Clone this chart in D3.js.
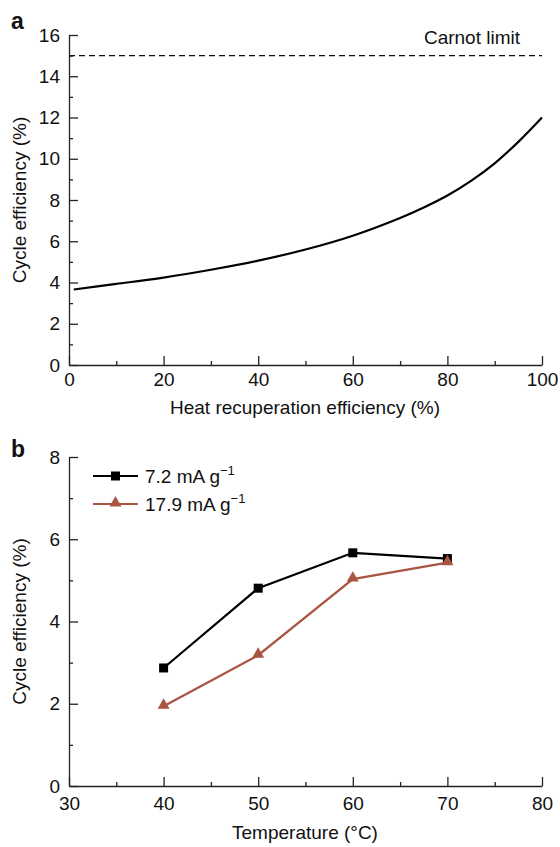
<!DOCTYPE html>
<html><head><meta charset="utf-8">
<script src="https://cdn.jsdelivr.net/npm/d3@7"></script>
<style>
body{margin:0;background:#fff;}
svg text{font-family:"Liberation Sans",Arial,Helvetica,sans-serif;fill:#111;}
</style></head>
<body><svg id="c" width="560" height="847"></svg>
<script>
// Panel a data
const recupX = [1, 10, 20, 30, 40, 50, 60, 70, 75, 80, 85, 90, 95, 100];
const cycleEffA = [3.66, 3.93, 4.24, 4.62, 5.06, 5.60, 6.27, 7.13, 7.64, 8.22, 8.93, 9.78, 10.82, 12.0];
const carnotLimit = 15;
const aXTicks = [0, 20, 40, 60, 80, 100];
const aYTicks = [0, 2, 4, 6, 8, 10, 12, 14, 16];
// Panel b data
const temps = [40, 50, 60, 70];
const eff72 = [2.87, 4.81, 5.67, 5.53];
const eff179 = [1.94, 3.18, 5.03, 5.43];
const seriesNames = ["7.2 mA g", "17.9 mA g"];
const bXTicks = [30, 40, 50, 60, 70, 80];
const bYTicks = [0, 2, 4, 6, 8];

const svg = d3.select("#c");
const FS = 19;
const red = "#AA5542";

function axes(g, x, y, xt, yt, xMinor, yMinor, xPad) {
  const h = y.range()[0];
  const x0 = x.range()[0];
  g.append("g").attr("transform", `translate(0,${h})`)
    .call(d3.axisBottom(x).tickValues(xMinor).tickSize(-4).tickFormat(""))
    .call(s => s.select(".domain").remove());
  g.append("g").attr("transform", `translate(${x0},0)`)
    .call(d3.axisLeft(y).tickValues(yMinor).tickSize(-4).tickFormat(""))
    .call(s => s.select(".domain").remove());
  const xa = g.append("g").attr("transform", `translate(0,${h})`)
    .call(d3.axisBottom(x).tickValues(xt).tickSizeInner(-9).tickSizeOuter(0).tickPadding(xPad));
  const ya = g.append("g").attr("transform", `translate(${x0},0)`)
    .call(d3.axisLeft(y).tickValues(yt).tickSizeInner(-9).tickSizeOuter(0).tickPadding(9));
  [xa, ya].forEach(a => {
    a.selectAll("text").attr("font-size", FS).attr("font-family", null);
  });
  g.selectAll("line,path.domain").attr("stroke", "#222").attr("stroke-width", 1.3);
}

// ---------- Panel a ----------
const xA = d3.scaleLinear().domain([0, 100]).range([69, 542]);
const yA = d3.scaleLinear().domain([0, 16]).range([365, 35]);
const ga = svg.append("g");
axes(ga, xA, yA, aXTicks, aYTicks, d3.range(10, 100, 20), d3.range(1, 16, 2), 8);

ga.append("line").attr("x1", xA(0)).attr("x2", xA(100))
  .attr("y1", yA(carnotLimit)).attr("y2", yA(carnotLimit))
  .attr("stroke", "#111").attr("stroke-width", 1.4).attr("stroke-dasharray", "6,4");
ga.append("text").attr("x", 520).attr("y", 44).attr("text-anchor", "end")
  .attr("font-size", FS).text("Carnot limit");

const lineA = d3.line().x((d, i) => xA(recupX[i])).y(d => yA(d)).curve(d3.curveCatmullRom.alpha(0.5));
ga.append("path").attr("d", lineA(cycleEffA)).attr("fill", "none")
  .attr("stroke", "#000").attr("stroke-width", 2.2);

ga.append("text").attr("x", 305).attr("y", 414).attr("text-anchor", "middle")
  .attr("font-size", FS).text("Heat recuperation efficiency (%)");
ga.append("text").attr("transform", `translate(26,${(35 + 365) / 2}) rotate(-90)`)
  .attr("text-anchor", "middle").attr("font-size", FS).text("Cycle efficiency (%)");
ga.append("text").attr("x", 11).attr("y", 29).attr("font-size", 23)
  .attr("font-weight", "bold").text("a");

// ---------- Panel b ----------
const xB = d3.scaleLinear().domain([30, 80]).range([69, 542]);
const yB = d3.scaleLinear().domain([0, 8]).range([786, 457]);
const gb = svg.append("g");
axes(gb, xB, yB, bXTicks, bYTicks, d3.range(35, 80, 10), d3.range(1, 8, 2), 11);

const lineB = d3.line().x((d, i) => xB(temps[i])).y(d => yB(d));
gb.append("path").attr("d", lineB(eff179)).attr("fill", "none")
  .attr("stroke", red).attr("stroke-width", 2.2);
gb.append("path").attr("d", lineB(eff72)).attr("fill", "none")
  .attr("stroke", "#000").attr("stroke-width", 2.2);

const tri = d3.symbol().type(d3.symbolTriangle).size(62);
gb.selectAll(".sq").data(eff72).join("rect")
  .attr("x", (d, i) => xB(temps[i]) - 4.5).attr("y", d => yB(d) - 4.5)
  .attr("width", 9).attr("height", 9).attr("fill", "#000");
gb.selectAll(".tr").data(eff179).join("path")
  .attr("d", tri).attr("transform", (d, i) => `translate(${xB(temps[i])},${yB(d) - 1})`)
  .attr("fill", red);

// legend
const legY = [476, 504];
const legColors = ["#000", red];
legY.forEach((ly, k) => {
  gb.append("line").attr("x1", 93).attr("x2", 138).attr("y1", ly).attr("y2", ly)
    .attr("stroke", legColors[k]).attr("stroke-width", 2.2);
  if (k === 0) {
    gb.append("rect").attr("x", 115.5 - 4.5).attr("y", ly - 4.5).attr("width", 9).attr("height", 9).attr("fill", "#000");
  } else {
    gb.append("path").attr("d", tri).attr("transform", `translate(115.5,${ly - 1})`).attr("fill", red);
  }
  const t = gb.append("text").attr("x", 145).attr("y", ly + 7).attr("font-size", FS);
  t.append("tspan").text(seriesNames[k]);
  t.append("tspan").attr("font-size", 13).attr("dy", -8).text("\u22121");
});

gb.append("text").attr("x", 305).attr("y", 839).attr("text-anchor", "middle")
  .attr("font-size", FS).text("Temperature (\u00B0C)");
gb.append("text").attr("transform", `translate(26,${(457 + 786) / 2}) rotate(-90)`)
  .attr("text-anchor", "middle").attr("font-size", FS).text("Cycle efficiency (%)");
gb.append("text").attr("x", 11).attr("y", 457).attr("font-size", 23)
  .attr("font-weight", "bold").text("b");
</script></body></html>
